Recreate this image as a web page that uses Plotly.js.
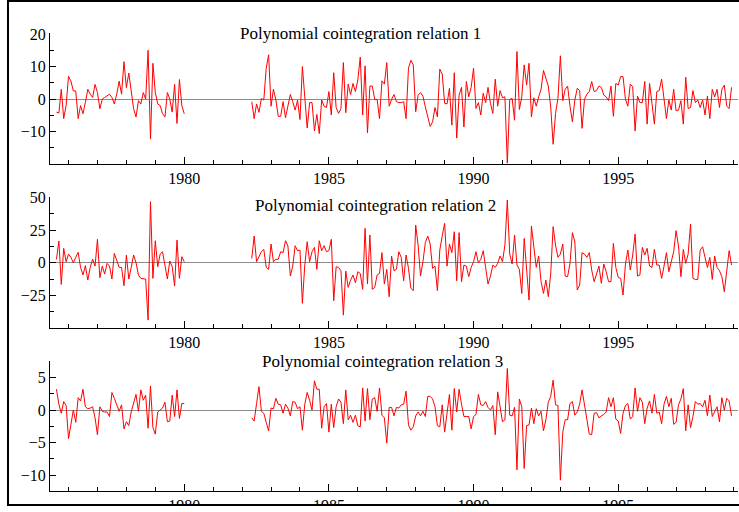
<!DOCTYPE html>
<html>
<head>
<meta charset="utf-8">
<script src="https://cdn.plot.ly/plotly-3.0.1.min.js"></script>
<style>
  html, body { margin: 0; padding: 0; background: #fff; }
  #wrap { position: absolute; left: 0; top: 0; width: 739px; height: 505px; overflow: hidden; }
  #chart { width: 739px; height: 512px; }
  #frame { position: absolute; left: 7px; top: 0px; width: 760px; height: 506px; box-sizing: border-box; border: 2px solid #000; pointer-events: none; }
</style>
</head>
<body>
<div id="wrap"><div id="chart"></div></div>
<div id="frame"></div>
<script>
// Monthly series: segment 1 starts Aug 1975, segment 2 starts May 1982
const seg1Start = [1975, 8];
const seg2Start = [1982, 5];

const titles = ["Polynomial cointegration relation 1", "Polynomial cointegration relation 2", "Polynomial cointegration relation 3"];
const xTickVals = [1980, 1985, 1990, 1995];

const rel1Seg1 = [-4,-4.3,3,-6,-2,7,5.5,2.5,2.5,-6,
  -2,-4.5,-1,3,1.5,0.5,4.5,2,-3,0,
  0.5,1,1.5,0.5,-1.5,1.5,5.5,1.5,11.5,3.5,
  8,2.5,-3,-5.5,-0.5,-1.5,2,0,15,-12.3,
  11,2,-1.5,-2,-4.5,-5.5,2,0,-4,4.5,
  -7.5,6,-2,-4.5];
const rel1Seg2 = [-0.8,-6.0,-1.5,-4.1,0.2,-0.3,9.5,13.6,-2.2,3.0,
  -0.3,-5.3,-5.3,-0.8,-5.7,-2.2,1.4,-0.8,-3.4,-0.3,
  -6.3,10.0,-0.8,-8.9,-1.1,-1.1,-9.8,-4.7,-10.6,-0.3,
  -2.2,-2.6,2.3,-4.9,8.1,-2.6,-4.4,-2.9,11.2,-4.2,
  4.6,1.4,4.8,2.3,5.9,12.9,-4.9,10.2,-10.4,4.0,
  4.0,-0.1,-0.1,-6.0,5.6,4.6,11.2,-2.2,-0.1,1.4,
  -0.8,-1.1,-1.1,-0.8,-6.0,9.5,11.9,10.5,-3.9,1.2,
  2.0,0.9,-2.4,-5.7,-8.4,-7.0,-2.6,-5.5,9.2,7.7,
  -1.3,-1.5,3.3,-8.0,8.1,-12.0,1.2,3.6,-8.6,5.4,
  0.7,3.6,9.5,-2.9,-1.1,-4.9,1.8,-1.1,3.6,-1.3,
  -4.4,6.1,-2.2,2.6,0.4,0.7,-19.7,-0.1,0.2,-6.5,
  14.6,-3.2,0.7,10.5,4.3,11.0,-5.5,0.4,-2.2,0.7,
  3.0,8.8,6.4,4.0,-2.4,-13.9,-4.4,0.2,13.3,-0.5,
  3.0,4.0,-2.2,-7.0,-0.3,3.3,2.6,-9.0,-0.1,1.5,
  2.3,5.4,2.3,2.6,4.0,3.6,1.2,0.7,-0.5,4.0,
  -5.3,4.8,4.3,6.9,6.9,-0.1,-2.2,4.6,3.8,-9.8,
  0.9,-1.1,-1.1,5.4,-7.7,4.8,-1.3,-7.7,2.3,2.6,
  6.1,-0.1,-6.0,-0.3,-3.4,3.0,-3.6,-3.4,-0.5,-7.7,
  6.7,-2.9,-2.6,2.6,-1.1,-0.3,-2.6,-0.3,-4.9,0.9,
  -6.0,3.0,0.7,3.0,-2.6,3.0,4.3,-2.2,-2.9,3.6];

const rel2Seg1 = [2.5,16.6,-16.6,11,0.8,6.6,4.1,0,4.1,7.9,
  -3.6,-9.4,-2.3,-13.3,-3.6,2.8,-2.6,17.9,-11.5,-2.6,
  -8.7,-0.5,-2.6,-12.5,7.1,0.8,-3.6,-3.6,-17.6,5.9,
  -12.5,-3.6,5.9,0,-9.4,-12.0,-12.5,-12.5,-43.9,46.7,
  -12.0,16.8,-3.1,6.6,8.4,-1.8,-12.5,1.3,-3.1,-17.9,
  17.3,-12.0,4.6,0.8];
const rel2Seg2 = [3.3,20.4,0.8,5.1,8.4,10.2,-3.6,-5.1,14.3,0.8,
  2.6,2.6,8.4,7.7,16.8,12.8,-10.2,-2.6,13.0,9.2,
  9.7,-31.1,-1.8,16.1,0.8,8.4,11.7,-5.1,16.8,9.2,
  13.0,8.4,9.2,17.9,-29.1,-3.1,-3.6,-6.1,-40.1,-6.4,
  -18.9,-13.3,-9.4,-15.3,-6.9,-8.2,-20.4,26.3,-16.3,21.2,
  -20.4,-18.9,-9.4,-8.2,7.7,-16.3,-5.1,-26.0,5.1,-6.1,
  -5.1,8.4,4.1,-13.8,5.9,-4.3,-19.6,-21.4,28.8,13.5,
  -10.2,0.8,15.3,20.4,14.3,-4.3,-2.6,-21.4,9.7,20.4,
  30.1,-2.6,14.3,7.7,23.7,-13.8,23.0,-14.5,-1.8,-2.6,
  -10.7,-3.6,0.8,8.4,0,2.6,9.2,-3.6,-16.3,-10.2,
  -1.8,-3.6,-0.5,5.1,0.8,13.5,48.0,6.6,-1.0,21.2,
  -1.8,-5.1,-23.5,18.6,-1.8,-28.6,28.1,9.7,-3.6,5.1,
  -14.5,-23.5,-13.3,-26.0,-8.7,27.6,13.5,4.1,6.6,14.3,
  -10.2,-10.7,-0.5,23.0,16.1,-20.9,-17.1,7.7,6.6,4.1,
  7.7,-5.6,-14.5,-8.7,-2.6,-15.8,-1.0,-6.9,-14.5,-14.5,
  14.8,-3.6,-11.2,-12.0,-24.7,-1.0,9.7,-5.6,5.9,21.9,
  -10.2,-9.4,11.7,5.9,11.0,-2.6,-3.6,10.2,-1.8,-1.8,
  -12.0,-2.6,7.7,-6.9,1.5,8.4,24.5,12.8,-10.7,10.2,
  -0.5,6.6,29.6,-12.0,-12.8,-12.8,9.7,12.2,4.1,-3.6,
  4.1,-12.8,5.1,-3.6,-6.1,-10.7,-22.2,-6.9,9.2,-1.8];

const rel3Seg1 = [3.2,0.9,-0.5,1.3,0.7,-4.4,-2.2,0,-1.9,1.9,
  1.4,3.2,0.5,0.2,0.3,0.5,-1.2,-3.8,0.5,-0.2,
  -0.3,-0.3,-1.0,2.7,1.8,0.9,-0.2,0.8,-2.9,-1.8,
  -2.4,-0.3,1.0,2.4,-0.2,3.1,1.5,2.3,-2.8,3.7,
  -2.7,-3.7,-0.3,0,0.3,1.2,-1.8,-1.7,2.3,-1.0,
  3.1,-1.3,1.0,1.0];
const rel3Seg2 = [-1.2,-1.7,1.0,3.6,-0.2,-0.5,-1.9,-3.2,0.3,0.2,
  1.8,0.9,0.8,-0.5,0.9,0.3,-0.9,1.3,1.2,0.2,
  0.5,-3.1,0.9,2.7,1.5,0,4.5,3.2,3.2,-2.8,
  0.5,1.0,-3.4,0.9,-2.7,0.5,1.7,1.2,-2.1,3.1,
  -1.5,-0.8,-1.9,-0.8,-2.4,-2.6,3.4,-1.7,3.3,-1.5,
  1.7,1.9,-0.2,3.4,-0.8,-1.2,-5.1,0.4,0.4,-0.9,
  0.4,0.3,0.8,0.9,2.9,-2.3,-3.1,-2.6,-0.9,-0.3,
  -0.9,-0.2,-1.0,2.1,2.1,1.7,0.5,-2.4,-2.6,0.8,
  -3.4,-0.8,2.4,-3.1,3.3,-0.3,3.2,0.9,-1.0,-1.0,
  -1.0,-2.9,-1.0,-0.7,2.4,0.8,0.7,1.3,0.4,0,
  0.7,-3.8,2.8,0.5,-1.8,-1.5,6.4,-0.8,-0.9,0.4,
  -9.2,1.7,0.5,-9.0,-2.4,-2.3,0.3,-2.1,0.2,-0.9,
  -0.2,-3.2,-1.5,1.2,2.1,4.6,0.8,0.7,-10.8,-3.4,
  -1.5,-1.5,1.0,1.3,-0.8,-0.3,0.9,3.1,0.8,-1.5,
  -3.7,-3.8,-0.5,-0.4,-1.2,-0.9,-0.7,-0.3,1.9,0.5,
  1.9,-1.4,-1.7,-3.6,-0.5,0.7,1.0,-1.4,-1.0,3.4,
  -0.2,1.9,1.2,-2.1,0.3,1.4,-0.5,2.4,-0.5,-0.3,
  -2.1,0.9,2.1,0.5,1.8,-2.2,-1.9,0.8,1.7,3.3,
  -3.2,0.8,-2.7,-1.0,1.3,0.9,1.0,0.5,1.5,-0.9,
  2.3,-1.0,-0.2,0.5,-1.8,1.9,0,1.8,1.4,-0.9];

function monthly(start, n) {
  const out = [];
  for (let i = 0; i < n; i++) out.push(start[0] + (start[1] - 1 + i) / 12);
  return out;
}
function joinSeries(a, b) {
  const xa = monthly(seg1Start, a.length), xb = monthly(seg2Start, b.length);
  return { x: xa.concat([1981]).concat(xb), y: a.concat([null]).concat(b) };
}

const series = [joinSeries(rel1Seg1, rel1Seg2), joinSeries(rel2Seg1, rel2Seg2), joinSeries(rel3Seg1, rel3Seg2)];

const traces = series.map((s, i) => ({
  x: s.x, y: s.y, type: 'scatter', mode: 'lines',
  line: { color: '#ff0000', width: 1 },
  connectgaps: false,
  xaxis: i === 0 ? 'x' : 'x' + (i + 1),
  yaxis: i === 0 ? 'y' : 'y' + (i + 1),
  hoverinfo: 'skip', showlegend: false
}));

const tickFont = { family: 'Liberation Serif, Times New Roman, serif', size: 16, color: '#000' };
function xAx(anchor) {
  return {
    anchor: anchor, range: [1975.36, 1999.14], showgrid: false, zeroline: false,
    showline: true, linecolor: '#000', linewidth: 1,
    ticks: 'inside', ticklen: 7, tickcolor: '#000', tickwidth: 1,
    tickvals: xTickVals, ticktext: xTickVals.map(String), tickfont: tickFont,
    minor: { dtick: 1, tick0: 1975, ticks: 'inside', ticklen: 4, tickcolor: '#000', showgrid: false }
  };
}
function yAx(anchor, domain, range, dtick, mdtick) {
  return {
    anchor: anchor, domain: domain, range: range, showgrid: false,
    zeroline: true, zerolinecolor: '#8c8c8c', zerolinewidth: 1,
    showline: true, linecolor: '#000', linewidth: 1,
    ticks: 'inside', ticklen: 6, tickcolor: '#000', tickwidth: 1,
    dtick: dtick, tick0: 0, tickfont: tickFont,
    minor: { dtick: mdtick, ticks: 'inside', ticklen: 4, tickcolor: '#000', showgrid: false }
  };
}

const titleFont = { family: 'Liberation Serif, Times New Roman, serif', size: 17, color: '#000' };
const titlePos = [[0.4513, 1.0], [0.4724, 0.6223], [0.4836, 0.2817]];

const layout = {
  width: 739, height: 512,
  margin: { l: 50, r: 1, t: 33, b: 21, pad: 0 },
  paper_bgcolor: '#fff', plot_bgcolor: '#fff',
  showlegend: false,
  xaxis: xAx('y'), xaxis2: xAx('y2'), xaxis3: xAx('y3'),
  yaxis: yAx('x', [0.714, 1.0], [-19.95, 20.3], 10, 5),
  yaxis2: yAx('x2', [0.3566, 0.6426], [-49.7, 50.5], 25, 12.5),
  yaxis3: yAx('x3', [0, 0.2838], [-12.46, 7.54], 5, 2.5),
  annotations: titles.map((t, i) => ({
    text: t, xref: 'paper', yref: 'paper', x: titlePos[i][0], y: titlePos[i][1],
    xanchor: 'center', yanchor: 'middle', showarrow: false, font: titleFont
  }))
};

Plotly.newPlot('chart', traces, layout, { staticPlot: true, displayModeBar: false });
</script>
</body>
</html>
